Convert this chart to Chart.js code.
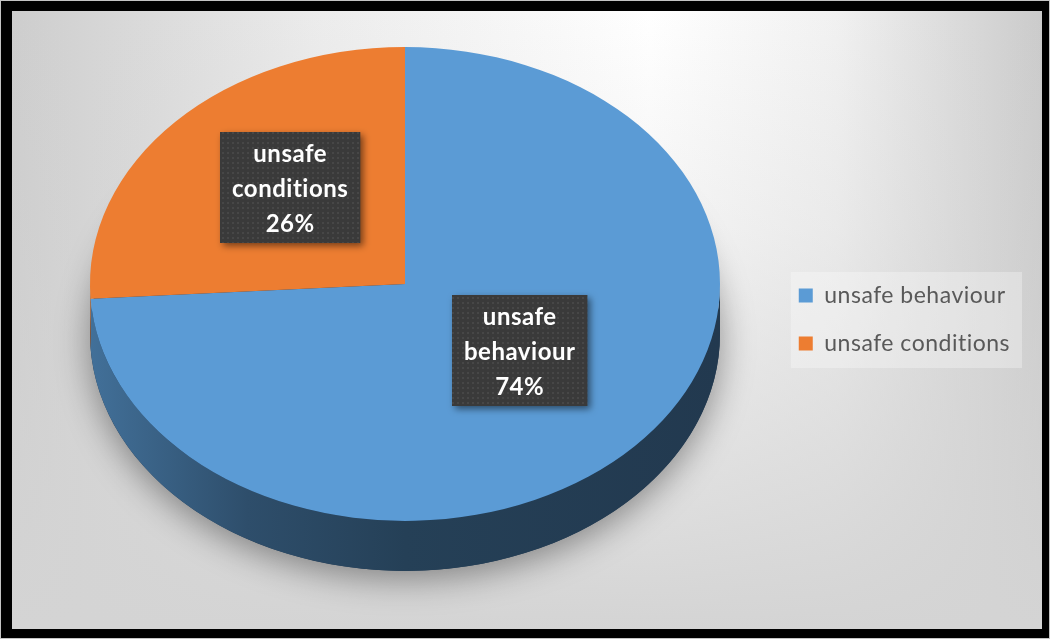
<!DOCTYPE html>
<html>
<head>
<meta charset="utf-8">
<script src="https://cdn.jsdelivr.net/npm/chart.js@4.4.1/dist/chart.umd.min.js"></script>
<style>
  html, body { margin: 0; padding: 0; background: #000; }
  #wrap { width: 1050px; height: 639px; }
</style>
</head>
<body>
<div id="wrap"><canvas id="grafico_pizza"></canvas></div>
<script>
const categories = ['unsafe behaviour', 'unsafe conditions']
const values = [74, 26]
const colors = ['#5b9bd5', '#ed7d31']

// "3d" look: squash the pie vertically and add a side wall
const TILT = 0.752
const DEPTH = 50
const CENTER = { x: 405, y: 284 }
const LABEL_LIFT = 15
const SPACING = '0.5px'

const toScreen = (arc, px, py) => ({
    x: CENTER.x + (px - arc.x),
    y: CENTER.y + TILT * (py - arc.y)
})

const shade = (hex, f) => {
    const n = parseInt(hex.slice(1), 16)
    const r = Math.round(((n >> 16) & 255) * f)
    const g = Math.round(((n >> 8) & 255) * f)
    const b = Math.round((n & 255) * f)
    return `rgb(${r},${g},${b})`
}

const makeTexture = () => {
    const c = document.createElement('canvas')
    c.width = 5
    c.height = 5
    const t = c.getContext('2d')
    t.fillStyle = '#3a3a3a'
    t.fillRect(0, 0, 5, 5)
    t.fillStyle = '#474747'
    t.fillRect(2, 2, 2, 2)
    return c
}

const backgroundPlugin = {
    id: 'background',
    beforeLayout: (chart) => {
        // a little tracking, also keeps canvas from making "ti" ligatures
        chart.ctx.letterSpacing = SPACING
    },
    beforeDraw: (chart) => {
        const { ctx, width, height } = chart
        ctx.letterSpacing = SPACING
        ctx.save()
        ctx.fillStyle = '#c4c4c4'
        ctx.fillRect(0, 0, width, height)
        ctx.fillStyle = '#000'
        ctx.fillRect(1, 1, width - 2, height - 2)

        const left = 12, top = 11, w = 1042 - 12, h = 629 - 11
        const gx = ctx.createLinearGradient(left, 0, left + w, 0)
        gx.addColorStop(0, '#cdcdcd')
        gx.addColorStop(0.3, '#ececec')
        gx.addColorStop(0.62, '#ffffff')
        gx.addColorStop(0.8, '#f1f1f1')
        gx.addColorStop(1, '#cbcbcb')
        ctx.fillStyle = gx
        ctx.fillRect(left, top, w, h)
        const gy = ctx.createLinearGradient(0, top, 0, top + h)
        gy.addColorStop(0, 'rgba(212,212,212,0)')
        gy.addColorStop(0.35, 'rgba(212,212,212,0.25)')
        gy.addColorStop(1, 'rgba(212,212,212,1)')
        ctx.fillStyle = gy
        ctx.fillRect(left, top, w, h)

        // light box behind the legend
        const boxes = chart.legend.legendHitBoxes
        if (boxes && boxes.length) {
            const l = Math.min(...boxes.map(b => b.left)) - 8
            const t = Math.min(...boxes.map(b => b.top)) - 12
            const r = Math.max(...boxes.map(b => b.left + b.width)) + 12
            const bt = Math.max(...boxes.map(b => b.top + b.height)) + 13
            ctx.fillStyle = 'rgba(255,255,255,0.3)'
            ctx.fillRect(l, t, r - l, bt - t)
        }
        ctx.restore()
    }
}

const pie3dPlugin = {
    id: 'pie3d',
    beforeDatasetsDraw: (chart) => {
        const { ctx } = chart
        const arcs = chart.getDatasetMeta(0).data
        const a0 = arcs[0]
        const R = a0.outerRadius
        const dy = DEPTH / TILT

        ctx.save()
        ctx.translate(CENTER.x, CENTER.y)
        ctx.scale(1, TILT)
        ctx.translate(-a0.x, -a0.y)

        // soft floor shadow
        ctx.save()
        ctx.shadowColor = 'rgba(0,0,0,0.4)'
        ctx.shadowBlur = 34
        ctx.shadowOffsetY = 8
        ctx.fillStyle = '#223b54'
        ctx.beginPath()
        ctx.arc(a0.x, a0.y + dy, R, 0, Math.PI * 2)
        ctx.fill()
        ctx.restore()

        // side wall of each slice, only the front half shows
        arcs.forEach((arc, i) => {
            const g = ctx.createLinearGradient(arc.x - R, 0, arc.x + R, 0)
            g.addColorStop(0, shade(colors[i], 0.72))
            g.addColorStop(0.25, shade(colors[i], 0.5))
            g.addColorStop(0.5, shade(colors[i], 0.41))
            g.addColorStop(1, shade(colors[i], 0.37))
            ;[-2 * Math.PI, 0, 2 * Math.PI].forEach(k => {
                const s = Math.max(arc.startAngle, k)
                const e = Math.min(arc.endAngle, k + Math.PI)
                if (e <= s) return
                ctx.beginPath()
                ctx.arc(arc.x, arc.y, R, s, e)
                ctx.arc(arc.x, arc.y + dy, R, e, s, true)
                ctx.closePath()
                ctx.fillStyle = g
                ctx.fill()
            })
        })
    },
    afterDatasetsDraw: (chart) => {
        const { ctx } = chart
        ctx.restore()

        const total = values.reduce((a, b) => a + b, 0)
        const texture = ctx.createPattern(makeTexture(), 'repeat')
        chart.getDatasetMeta(0).data.forEach((arc, i) => {
            const c = arc.getCenterPoint()
            const p = toScreen(arc, c.x, c.y)
            const lines = [...categories[i].split(' '), Math.round(values[i] / total * 100) + '%']
            ctx.save()
            ctx.letterSpacing = SPACING
            ctx.font = 'bold 24px Lato'
            const w = Math.max(...lines.map(l => ctx.measureText(l).width)) + 24
            const h = lines.length * 35 + 6
            const x = Math.round(p.x - w / 2)
            const y = Math.round(p.y - LABEL_LIFT - h / 2)
            ctx.save()
            ctx.shadowColor = 'rgba(0,0,0,0.5)'
            ctx.shadowBlur = 7
            ctx.shadowOffsetX = 3
            ctx.shadowOffsetY = 3
            ctx.fillStyle = texture
            ctx.fillRect(x, y, w, h)
            ctx.restore()
            ctx.fillStyle = '#ffffff'
            ctx.textAlign = 'center'
            ctx.textBaseline = 'middle'
            lines.forEach((l, j) => ctx.fillText(l, x + w / 2, y + 22 + j * 35))
            ctx.restore()
        })
    }
}

const ctxPizza = document.querySelector('#grafico_pizza')

const chart = new Chart(ctxPizza, {
    type: 'pie',
    data: {
        labels: categories,
        datasets: [{
            data: values,
            backgroundColor: colors,
            borderWidth: 0,
            radius: 315,
            clip: false
        }]
    },
    options: {
        responsive: true,
        maintainAspectRatio: false,
        animation: false,
        events: [],
        layout: { padding: { right: 30 } },
        plugins: {
            legend: {
                position: 'right',
                labels: {
                    boxWidth: 14,
                    boxHeight: 14,
                    color: '#595959',
                    font: { family: 'Lato', size: 23 },
                    padding: 25
                }
            },
            tooltip: { enabled: false }
        }
    },
    plugins: [backgroundPlugin, pie3dPlugin]
})
</script>
</body>
</html>
